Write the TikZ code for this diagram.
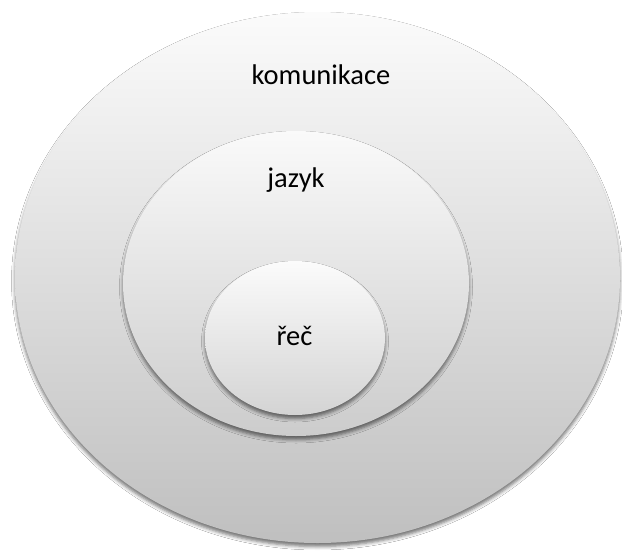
\documentclass[tikz,border=0pt]{standalone}
\usepackage{fontspec}
\setmainfont{Carlito}
\usetikzlibrary{shapes.geometric,shadows.blur}

\tikzset{
  disc/.style={ellipse, inner sep=0pt, draw=none,
    blur shadow={shadow xshift=0pt, shadow yshift=-3.5pt,
                 shadow blur radius=3.5pt, shadow opacity=55}},
  label text/.style={anchor=base, inner sep=0pt,
    font=\fontsize{28.5}{34}\selectfont, text=black}
}

\begin{document}
\begin{tikzpicture}[x=1pt,y=-1pt]
  \useasboundingbox[fill=white] (0,0) rectangle (622,550);

  % three nested sets
  \node[disc, minimum width=605pt, minimum height=531pt,
        top color=gray!3, bottom color=gray!50] (outer) at (317.5,277.5) {};
  \node[disc, minimum width=346pt, minimum height=305pt,
        top color=gray!4, bottom color=gray!40] (middle) at (296,283.5) {};
  \node[disc, minimum width=180pt, minimum height=154pt,
        top color=gray!3, bottom color=gray!34] (inner) at (295,338) {};

  % set names
  \node[label text] (komunikace) at (321,84) {komunikace};
  \node[label text] (jazyk) at (296,187) {jazyk};
  \node[label text] (rec) at (294.5,345) {řeč};
\end{tikzpicture}
\end{document}
